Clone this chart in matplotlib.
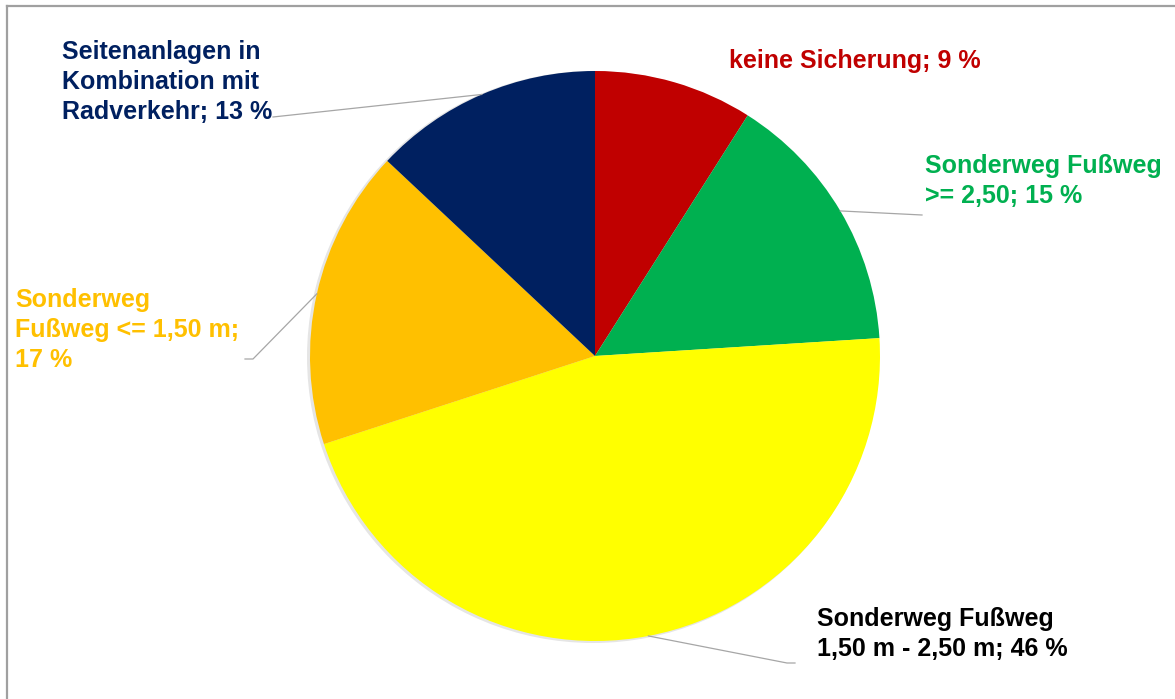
import numpy as np
import matplotlib.pyplot as plt
from matplotlib.patches import Circle

plt.rcParams['font.family'] = ['Liberation Sans', 'DejaVu Sans']

# Anteile der Sicherungsarten, im Uhrzeigersinn ab 12 Uhr
labels = [
    'keine Sicherung; 9 %',
    'Sonderweg Fußweg\n>= 2,50; 15 %',
    'Sonderweg Fußweg\n1,50 m - 2,50 m; 46 %',
    'Sonderweg\nFußweg <= 1,50 m;\n17 %',
    'Seitenanlagen in\nKombination mit\nRadverkehr; 13 %',
]
shares = [9, 15, 46, 17, 13]
colors = ['#C00000', '#00B050', '#FFFF00', '#FFC000', '#002060']
text_colors = ['#C00000', '#00B050', '#000000', '#FFC000', '#002060']

W, H = 1175, 699
fig = plt.figure(figsize=(W / 100, H / 100), dpi=100, facecolor='white')
ax = fig.add_axes([0, 0, 1, 1])


def py(y):
    # Pixelzeile (von oben) -> Datenkoordinate
    return H - y


cx, cy, r = 595, py(356), 285

# leichter Schatten hinter dem Kreis
ax.add_patch(Circle((cx - 2, cy - 1), r + 1, color='#000000', alpha=0.10,
                    lw=0, zorder=1))

wedges, _ = ax.pie(shares, colors=colors, startangle=90, counterclock=False,
                   center=(cx, cy), radius=r, frame=True,
                   wedgeprops=dict(linewidth=0, zorder=2))
ax.set_xlim(0, W)
ax.set_ylim(0, H)
ax.axis('off')

# Beschriftungen: linke Kante, vertikale Mitte (Pixel)
label_pos = [(729, 61), (925, 181), (817, 634), (15, 330), (62, 82)]
# Endpunkte der Führungslinien (Pixel), None = keine Linie
leaders = [
    None,
    [(922, 215)],
    [(787, 663), (795, 663)],
    [(253, 359), (245, 359)],
    [(273, 117)],
]

for w, lab, tc, (lx, ly), lead in zip(wedges, labels, text_colors, label_pos, leaders):
    ax.text(lx, py(ly), lab, color=tc, fontsize=18, fontweight='bold',
            ha='left', va='center', linespacing=1.3, zorder=5)
    if lead is None:
        continue
    mid = np.deg2rad((w.theta1 + w.theta2) / 2)
    xs = [cx + r * np.cos(mid)] + [p[0] for p in lead]
    ys = [cy + r * np.sin(mid)] + [py(p[1]) for p in lead]
    ax.plot(xs, ys, color='#A6A6A6', lw=0.9, zorder=3)

# Rahmen oben und links
ax.plot([7, W], [py(6), py(6)], color='#A0A0A0', lw=1.6, zorder=6)
ax.plot([7, 7], [py(6), 0], color='#A0A0A0', lw=1.6, zorder=6)

fig.savefig('out.png', dpi=100, facecolor='white')
